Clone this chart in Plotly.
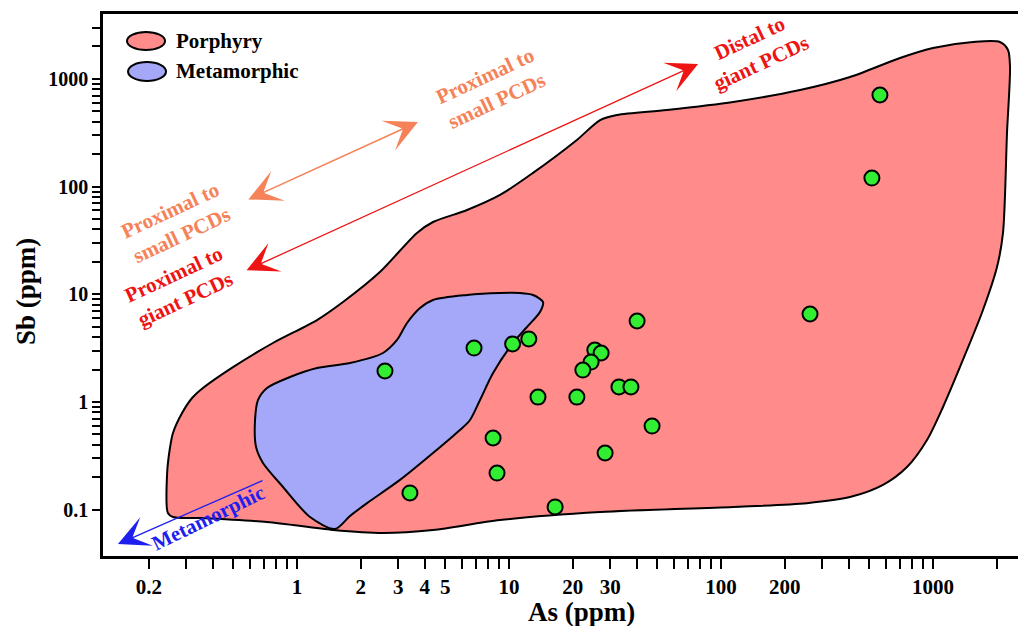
import numpy as np
import plotly.graph_objects as go

# ---------------- data (ppm) ----------------
porphyry_as = [0.246, 0.244, 0.252, 0.260, 0.287, 0.320, 0.360, 0.499, 0.770, 1.243, 1.648,
               2.46, 3.68, 4.38, 6.34, 9.07, 12.98, 20.9, 26.9, 32.3, 55.6, 114, 236, 406,
               699, 1000, 1544, 2070, 2258, 2308, 2234, 2139, 2004, 1721, 1447, 1115, 937,
               754, 581, 406, 254, 114, 26.9, 9.07, 4.38, 2.55, 1.48, 0.722, 0.349, 0.260]
porphyry_sb = [0.0932, 0.219, 0.382, 0.516, 0.790, 1.089, 1.349, 2.11, 3.53, 5.77, 8.48,
               16.1, 37.1, 46.9, 60.6, 83.6, 134, 271, 415, 462, 514, 610, 788, 1041,
               1564, 1936, 2201, 2201, 1855, 1290, 315, 37.1, 17.9, 7.15, 3.04, 0.899, 0.444,
               0.249, 0.170, 0.131, 0.115, 0.106, 0.0952, 0.0802, 0.0648, 0.0608, 0.0648,
               0.0769, 0.0837, 0.0855]

meta_as = [1.511, 1.152, 0.859, 0.691, 0.641, 0.634, 0.655, 0.722, 0.927, 1.243, 1.778,
           2.545, 2.963, 3.303, 3.804, 4.381, 6.337, 9.07, 11.27, 12.98, 14.47, 14.0,
           12.16, 10.44, 8.41, 7.30, 6.55, 5.87, 4.38, 3.06, 2.14, 1.778]
meta_sb = [0.0662, 0.0855, 0.1625, 0.2715, 0.382, 0.681, 1.044, 1.349, 1.707, 2.069, 2.302,
           2.851, 3.765, 5.414, 7.46, 8.85, 9.85, 10.28, 10.28, 9.85, 8.48, 6.85,
           4.97, 3.53, 1.859, 1.044, 0.681, 0.550, 0.336, 0.189, 0.115, 0.0874]

sample_as = [562, 515, 263, 40.2, 12.4, 10.4, 6.84, 2.60, 25.4, 27.2, 24.4, 22.3,
             33.0, 37.6, 13.7, 20.9, 47.3, 8.41, 28.4, 8.78, 3.41, 16.5]
sample_sb = [709, 120, 6.56, 5.65, 3.85, 3.46, 3.17, 1.94, 3.04, 2.85, 2.35, 1.98,
             1.38, 1.38, 1.11, 1.11, 0.598, 0.463, 0.336, 0.219, 0.143, 0.106]

x_tick_vals = [0.2, 0.3, 0.4, 0.5, 0.6, 0.7, 0.8, 0.9, 1, 2, 3, 4, 5, 6, 7, 8, 9,
               10, 20, 30, 40, 50, 60, 70, 80, 90, 100, 200, 300, 400, 500, 600, 700,
               800, 900, 1000, 2000]
x_tick_labels = ["0.2", "", "", "", "", "", "", "", "1", "2", "3", "4", "5", "", "", "", "",
                 "10", "20", "30", "", "", "", "", "", "", "100", "200", "", "", "", "", "",
                 "", "", "1000", ""]
y_tick_vals = [0.1, 0.2, 0.3, 0.4, 0.5, 0.6, 0.7, 0.8, 0.9, 1, 2, 3, 4, 5, 6, 7, 8, 9,
               10, 20, 30, 40, 50, 60, 70, 80, 90, 100, 200, 300, 400, 500, 600, 700,
               800, 900, 1000, 2000, 3000]
y_tick_labels = ["0.1"] + [""] * 8 + ["1"] + [""] * 8 + ["10"] + [""] * 8 + ["100"] + [""] * 8 + ["1000", "", ""]

# arrows (ppm): [As_start, Sb_start, As_end, Sb_end]
arrow_orange = [0.58, 75, 3.72, 398]
arrow_red = [0.569, 16.5, 78, 1375]
arrow_blue = [0.699, 0.189, 0.143, 0.048]

# ---------------- styling ----------------
FONT = "Liberation Serif, Times New Roman, serif"
PINK = "rgb(255,139,139)"
LILAC = "rgb(165,167,249)"
ORANGE = "rgb(245,130,88)"
RED = "rgb(238,20,20)"
BLUE = "rgb(30,30,238)"

fig = go.Figure()
fig.add_trace(go.Scatter(x=porphyry_as + porphyry_as[:1], y=porphyry_sb + porphyry_sb[:1],
                         mode="lines", fill="toself", fillcolor=PINK,
                         line=dict(color="black", width=2, shape="spline", smoothing=0.8),
                         hoverinfo="skip", showlegend=False))
fig.add_trace(go.Scatter(x=meta_as + meta_as[:1], y=meta_sb + meta_sb[:1],
                         mode="lines", fill="toself", fillcolor=LILAC,
                         line=dict(color="black", width=2, shape="spline", smoothing=0.8),
                         hoverinfo="skip", showlegend=False))
fig.add_trace(go.Scatter(x=sample_as, y=sample_sb, mode="markers",
                         marker=dict(size=15, color="rgb(50,238,50)",
                                     line=dict(color="black", width=2)),
                         showlegend=False))

L = np.log10


def arrow(a, color, width, both=True, size=2.0):
    return dict(x=L(a[2]), y=L(a[3]), ax=L(a[0]), ay=L(a[1]), xref="x", yref="y",
                axref="x", ayref="y", text="", showarrow=True, arrowhead=3,
                startarrowhead=3, arrowside="end+start" if both else "end",
                arrowsize=size, startarrowsize=size, arrowwidth=width, arrowcolor=color,
                standoff=0, startstandoff=0)


def label(txt, x, y, color, size=21, angle=-25):
    return dict(x=L(x), y=L(y), xref="x", yref="y", text=txt, showarrow=False,
                textangle=angle, font=dict(family=FONT, size=size, color=color, weight="bold"),
                align="center", xanchor="center", yanchor="middle")


annotations = [
    arrow(arrow_orange, ORANGE, 1.6, True, 3.4),
    arrow(arrow_red, RED, 1.3, True, 4.0),
    arrow(arrow_blue, BLUE, 1.3, False, 4.0),
    label("Proximal to<br>small PCDs", 8.14, 823, ORANGE),
    label("Proximal to<br>small PCDs", 0.2686, 46.9, ORANGE),
    label("Proximal to<br>giant PCDs", 0.2805, 11.7, RED),
    label("Distal to<br>giant PCDs", 144.7, 1855, RED),
    label("Metamorphic", 0.380, 0.0838, BLUE, 21, -26),
    # legend texts
    dict(x=0.0769, y=0.950, xref="paper", yref="paper", text="Porphyry", showarrow=False,
         xanchor="left", yanchor="middle", font=dict(family=FONT, size=21, color="black", weight="bold")),
    dict(x=0.0769, y=0.8948, xref="paper", yref="paper", text="Metamorphic", showarrow=False,
         xanchor="left", yanchor="middle", font=dict(family=FONT, size=21, color="black", weight="bold")),
    # axis titles
    dict(x=0.5179, y=-0.103, xref="paper", yref="paper", text="As (ppm)", showarrow=False,
         xanchor="center", yanchor="middle", font=dict(family=FONT, size=27, color="black", weight="bold")),
    dict(x=-0.0834, y=0.487, xref="paper", yref="paper", text="Sb (ppm)", showarrow=False,
         textangle=-90, xanchor="center", yanchor="middle",
         font=dict(family=FONT, size=27, color="black", weight="bold")),
]

shapes = [
    dict(type="circle", xref="paper", yref="paper", x0=0.026, x1=0.0672, y0=0.9336, y1=0.9668,
         fillcolor=PINK, line=dict(color="black", width=2)),
    dict(type="circle", xref="paper", yref="paper", x0=0.0271, x1=0.0683, y0=0.8764, y1=0.9114,
         fillcolor=LILAC, line=dict(color="black", width=2)),
]

# page body adds an 8px offset; size figure so the plot area lands where the reference has it
fig.update_layout(
    width=1018, height=618,
    margin=dict(l=95, r=0, t=6, b=70),
    paper_bgcolor="white", plot_bgcolor="white",
    annotations=annotations, shapes=shapes,
    xaxis=dict(type="log", range=[-0.9151, 3.4387], tickmode="array",
               tickvals=x_tick_vals, ticktext=x_tick_labels, ticks="outside",
               ticklen=10, tickwidth=2, tickcolor="black", showline=True, linewidth=2.5,
               linecolor="black", mirror=True, showgrid=False, zeroline=False,
               tickfont=dict(family=FONT, size=21, color="black", weight="bold")),
    yaxis=dict(type="log", range=[-1.4299, 3.6026], tickmode="array",
               tickvals=y_tick_vals, ticktext=y_tick_labels, ticks="outside",
               ticklen=8, tickwidth=2, tickcolor="black", showline=True, linewidth=2.5,
               linecolor="black", mirror=False, showgrid=False, zeroline=False,
               tickfont=dict(family=FONT, size=20, color="black", weight="bold")),
)

fig.write_html("out.html")
